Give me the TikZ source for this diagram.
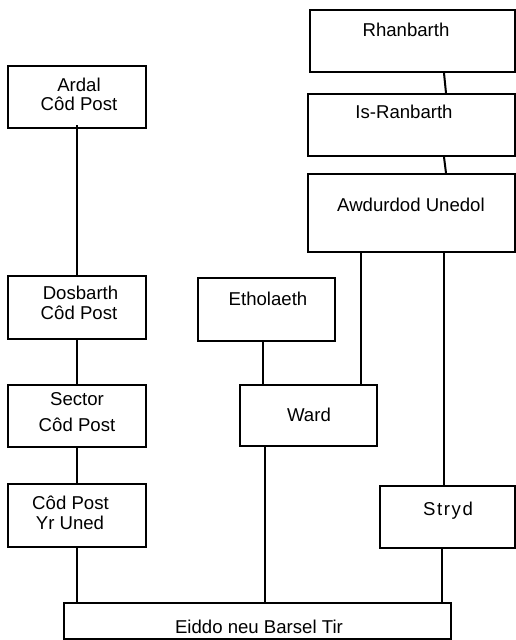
\documentclass[tikz,border=0pt]{standalone}
\usepackage{fontspec}
\setmainfont{Liberation Sans}
\begin{document}
\begin{tikzpicture}[x=1pt,y=-1pt,
  box/.style={draw,line width=2pt,rectangle,inner sep=0pt},
  lbl/.style={anchor=base,inner sep=0pt,font=\fontsize{18.6}{20}\selectfont},
  conn/.style={line width=2pt}]
\useasboundingbox (0,0) rectangle (516,640);
\newcommand{\bx}[5]{\node[box,minimum width={#4-#2},minimum height={#5-#3}] (#1) at ({(#2+#4)/2},{(#3+#5)/2}) {};}
\bx{ardal}{8}{66}{146}{128}
\bx{dosb}{8}{276}{146}{339}
\bx{sector}{8}{385}{146}{447}
\bx{cpuned}{8}{484}{146}{547}
\bx{ethol}{198}{278}{335}{341}
\bx{ward}{240}{385}{377}{446}
\bx{rhan}{310}{10}{515}{72}
\bx{isr}{308}{94}{515}{156}
\bx{awd}{308}{174}{515}{252}
\bx{stryd}{380}{486}{515}{548}
\bx{eiddo}{64}{603}{451}{639}
% labels
\node[lbl] (t1) at (79,91) {Ardal};
\node[lbl] (t2) at (79,110) {Côd Post};
\node[lbl] (t3) at (80.5,299) {Dosbarth};
\node[lbl] (t4) at (79,319) {Côd Post};
\node[lbl] (t5) at (77,405) {Sector};
\node[lbl] (t6) at (77,431) {Côd Post};
\node[lbl] (t7) at (70.5,509) {Côd Post};
\node[lbl] (t8) at (70,529) {Yr Uned};
\node[lbl] (t9) at (268,305) {Etholaeth};
\node[lbl] (t10) at (309,421) {Ward};
\node[lbl] (t11) at (406,36) {Rhanbarth};
\node[lbl] (t12) at (404,118) {Is-Ranbarth};
\node[lbl] (t13) at (411,211) {Awdurdod Unedol};
\node[lbl] (t14) at (448,515) {S\kern1.6pt t\kern1.6pt r\kern1.6pt y\kern1.6pt d};
\node[lbl] (t15) at (259,633) {Eiddo neu Barsel Tir};
% connectors
\draw[conn] ([yshift=4pt]ardal.south) -- (dosb.north);
\draw[conn] (dosb.south) -- (sector.north);
\draw[conn] (sector.south) -- (cpuned.north);
\coordinate (c1) at (cpuned.south);
\draw[conn] (c1) -- (c1 |- eiddo.north);
\coordinate (e1) at ([xshift=66pt]ethol.south west);
\draw[conn] (e1) -- (e1 |- ward.north);
\coordinate (a1) at ([xshift=54pt]awd.south west);
\draw[conn] (a1) -- (a1 |- ward.north);
\coordinate (a2) at ([xshift=137pt]awd.south west);
\draw[conn] (a2) -- (a2 |- stryd.north);
\coordinate (w1) at ([xshift=26pt]ward.south west);
\draw[conn] (w1) -- (w1 |- eiddo.north);
\coordinate (s1) at ([xshift=63pt]stryd.south west);
\draw[conn] (s1) -- (s1 |- eiddo.north);
\coordinate (r1) at ([xshift=135pt]rhan.south west);
\coordinate (i1) at ([xshift=139pt]isr.north west);
\draw[conn] (r1) -- (i1);
\coordinate (i2) at ([xshift=137pt]isr.south west);
\coordinate (a0) at ([xshift=139pt]awd.north west);
\draw[conn] (i2) -- (a0);
\end{tikzpicture}
\end{document}
